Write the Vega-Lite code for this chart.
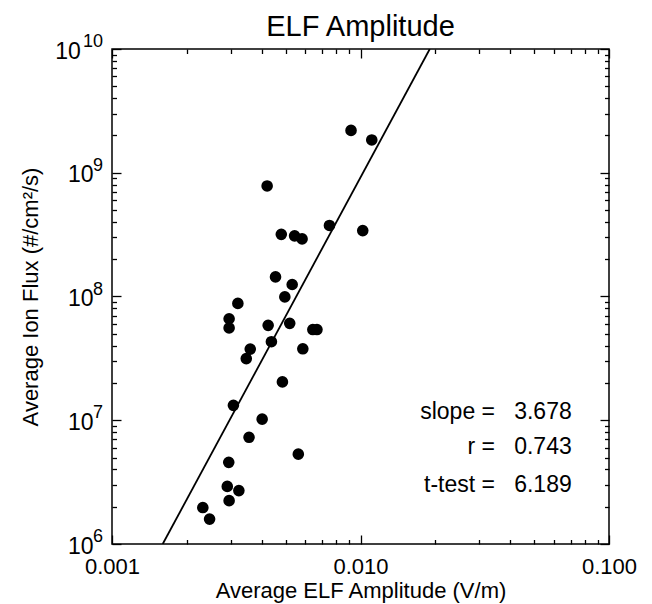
{
  "$schema": "https://vega.github.io/schema/vega-lite/v6.json",
  "width": 497,
  "height": 495,
  "autosize": "none",
  "padding": {"left": 112, "top": 49, "right": 43, "bottom": 60},
  "title": {"text": "ELF Amplitude", "fontSize": 29, "font": "Liberation Sans", "fontWeight": "normal", "color": "black", "offset": -9, "anchor": "middle"},
  "config": {
    "font": "Liberation Sans",
    "view": {"stroke": "black", "strokeWidth": 1.5},
    "axis": {"grid": false, "domain": false, "tickColor": "black", "tickWidth": 1.3, "labelColor": "black", "titleColor": "black", "labelFontSize": 22, "titleFontSize": 22, "titleFontWeight": "normal", "labelFont": "Liberation Sans", "titleFont": "Liberation Sans"}
  },
  "datasets": {
    "pts": [
      {"amp": 0.00916, "flux": 2.20e9},
      {"amp": 0.0111, "flux": 1.84e9},
      {"amp": 0.00421, "flux": 7.82e8},
      {"amp": 0.00750, "flux": 3.75e8},
      {"amp": 0.01021, "flux": 3.41e8},
      {"amp": 0.00480, "flux": 3.18e8},
      {"amp": 0.00543, "flux": 3.09e8},
      {"amp": 0.00582, "flux": 2.92e8},
      {"amp": 0.00455, "flux": 1.44e8},
      {"amp": 0.00531, "flux": 1.25e8},
      {"amp": 0.00496, "flux": 9.93e7},
      {"amp": 0.00321, "flux": 8.79e7},
      {"amp": 0.00296, "flux": 6.61e7},
      {"amp": 0.00296, "flux": 5.57e7},
      {"amp": 0.00425, "flux": 5.85e7},
      {"amp": 0.00519, "flux": 6.07e7},
      {"amp": 0.00643, "flux": 5.41e7},
      {"amp": 0.00668, "flux": 5.41e7},
      {"amp": 0.00438, "flux": 4.31e7},
      {"amp": 0.00360, "flux": 3.76e7},
      {"amp": 0.00347, "flux": 3.15e7},
      {"amp": 0.00586, "flux": 3.78e7},
      {"amp": 0.00485, "flux": 2.04e7},
      {"amp": 0.00308, "flux": 1.32e7},
      {"amp": 0.00402, "flux": 1.02e7},
      {"amp": 0.00356, "flux": 7.28e6},
      {"amp": 0.00562, "flux": 5.32e6},
      {"amp": 0.00295, "flux": 4.57e6},
      {"amp": 0.00291, "flux": 2.92e6},
      {"amp": 0.00324, "flux": 2.70e6},
      {"amp": 0.00296, "flux": 2.24e6},
      {"amp": 0.00232, "flux": 1.97e6},
      {"amp": 0.00247, "flux": 1.59e6}
    ],
    "fit": [
      {"amp": 0.0016, "flux": 1e6},
      {"amp": 0.0190, "flux": 1e10}
    ],
    "stats": [
      {"amp": 0.0708, "flux": 1.17e7, "label": "slope =\u00a0\u00a0\u00a03.678"},
      {"amp": 0.0708, "flux": 6.08e6, "label": "r =\u00a0\u00a0\u00a00.743"},
      {"amp": 0.0708, "flux": 3.0e6, "label": "t-test =\u00a0\u00a0\u00a06.189"}
    ],
    "exps": [
      {"flux": 1e6, "exp": "6"},
      {"flux": 1e7, "exp": "7"},
      {"flux": 1e8, "exp": "8"},
      {"flux": 1e9, "exp": "9"},
      {"flux": 1e10, "exp": "10"}
    ]
  },
  "layer": [
    {
      "data": {"name": "pts"},
      "mark": {"type": "point", "filled": true, "shape": "circle", "color": "black", "opacity": 1, "size": 135},
      "encoding": {
        "x": {"field": "amp", "type": "quantitative", "scale": {"type": "log", "domain": [0.001, 0.1], "nice": false},
              "axis": {"orient": "bottom", "values": [0.001, 0.01, 0.1], "format": ".3f", "tickSize": -9, "labelPadding": 21, "title": "Average ELF Amplitude (V/m)", "titlePadding": 3, "labelFlush": false}},
        "y": {"field": "flux", "type": "quantitative", "scale": {"type": "log", "domain": [1e6, 1e10], "nice": false},
              "axis": {"orient": "left", "values": [1e6, 1e7, 1e8, 1e9, 1e10], "tickSize": -9, "labelPadding": 28, "labelOffset": 2, "labelFontSize": 23,
                       "labelExpr": "datum.value > 5e9 ? '10\u00a0\u00a0\u200b' : '10'",
                       "title": "Average Ion Flux (#/cm²/s)", "titlePadding": 12, "labelFlush": false}}
      }
    },
    {
      "data": {"name": "fit"},
      "mark": {"type": "line", "color": "black", "strokeWidth": 1.8, "clip": true},
      "encoding": {
        "x": {"field": "amp", "type": "quantitative", "scale": {"type": "log", "domain": [0.001, 0.1], "nice": false},
              "axis": {"orient": "bottom", "values": [0.002, 0.003, 0.004, 0.005, 0.006, 0.007, 0.008, 0.009, 0.02, 0.03, 0.04, 0.05, 0.06, 0.07, 0.08, 0.09], "tickSize": -4.5, "labels": false, "title": null}},
        "y": {"field": "flux", "type": "quantitative", "scale": {"type": "log", "domain": [1e6, 1e10], "nice": false},
              "axis": {"orient": "left", "values": [2e6, 3e6, 4e6, 5e6, 6e6, 7e6, 8e6, 9e6, 2e7, 3e7, 4e7, 5e7, 6e7, 7e7, 8e7, 9e7, 2e8, 3e8, 4e8, 5e8, 6e8, 7e8, 8e8, 9e8, 2e9, 3e9, 4e9, 5e9, 6e9, 7e9, 8e9, 9e9], "tickSize": -4.5, "labels": false, "title": null}}
      }
    },
    {
      "data": {"name": "stats"},
      "mark": {"type": "text", "align": "right", "baseline": "middle", "fontSize": 23, "color": "black", "font": "Liberation Sans"},
      "encoding": {
        "x": {"field": "amp", "type": "quantitative", "scale": {"type": "log", "domain": [0.001, 0.1], "nice": false},
              "axis": {"orient": "top", "values": [0.001, 0.01, 0.1], "tickSize": -9, "labels": false, "title": null}},
        "y": {"field": "flux", "type": "quantitative", "scale": {"type": "log", "domain": [1e6, 1e10], "nice": false},
              "axis": {"orient": "right", "values": [1e6, 1e7, 1e8, 1e9, 1e10], "tickSize": -9, "labels": false, "title": null}},
        "text": {"field": "label", "type": "nominal"}
      }
    },
    {
      "data": {"name": "fit"},
      "mark": {"type": "point", "opacity": 0, "size": 1},
      "encoding": {
        "x": {"field": "amp", "type": "quantitative", "scale": {"type": "log", "domain": [0.001, 0.1], "nice": false},
              "axis": {"orient": "top", "values": [0.002, 0.003, 0.004, 0.005, 0.006, 0.007, 0.008, 0.009, 0.02, 0.03, 0.04, 0.05, 0.06, 0.07, 0.08, 0.09], "tickSize": -4.5, "labels": false, "title": null}},
        "y": {"field": "flux", "type": "quantitative", "scale": {"type": "log", "domain": [1e6, 1e10], "nice": false},
              "axis": {"orient": "right", "values": [2e6, 3e6, 4e6, 5e6, 6e6, 7e6, 8e6, 9e6, 2e7, 3e7, 4e7, 5e7, 6e7, 7e7, 8e7, 9e7, 2e8, 3e8, 4e8, 5e8, 6e8, 7e8, 8e8, 9e8, 2e9, 3e9, 4e9, 5e9, 6e9, 7e9, 8e9, 9e9], "tickSize": -4.5, "labels": false, "title": null}}
      }
    },
    {
      "data": {"name": "exps"},
      "mark": {"type": "text", "align": "right", "baseline": "middle", "fontSize": 18, "color": "black", "font": "Liberation Sans", "dx": -9, "dy": -7},
      "encoding": {
        "x": {"datum": 0.001, "type": "quantitative", "scale": {"type": "log", "domain": [0.001, 0.1], "nice": false}, "axis": null},
        "y": {"field": "flux", "type": "quantitative", "scale": {"type": "log", "domain": [1e6, 1e10], "nice": false}, "axis": null},
        "text": {"field": "exp", "type": "nominal"}
      }
    }
  ],
  "resolve": {"axis": {"x": "independent", "y": "independent"}}
}
